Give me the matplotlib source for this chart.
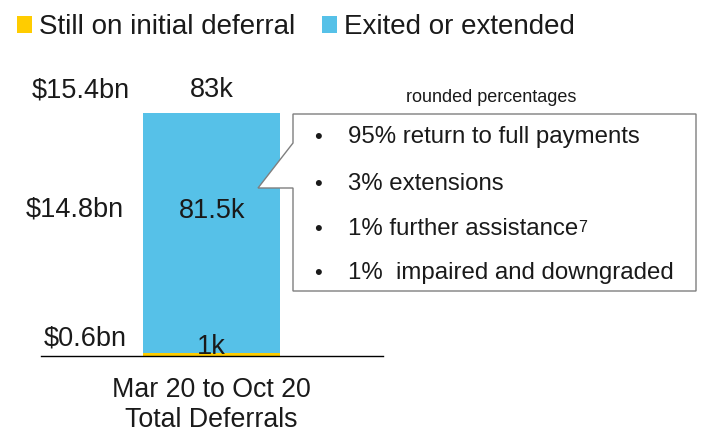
import matplotlib
matplotlib.use("Agg")
import matplotlib.pyplot as plt
from matplotlib.patches import Polygon

plt.rcParams['font.family'] = ['Liberation Sans', 'DejaVu Sans']

categories = ["Mar 20 to Oct 20\nTotal Deferrals"]
series_names = ["Still on initial deferral", "Exited or extended"]
still_on = [1.0]        # thousand accounts
exited = [81.5]         # thousand accounts
count_labels = ["1k", "81.5k", "83k"]
value_labels = ["$0.6bn", "$14.8bn", "$15.4bn"]
bullets = ["95% return to full payments", "3% extensions",
           "1% further assistance", "1%  impaired and downgraded"]
footnote = "7"
note = "rounded percentages"

yellow = "#FFCC00"
blue = "#56C1E8"
txt = "#1a1a1a"

W, H = 702, 436
fig = plt.figure(figsize=(W / 100, H / 100), dpi=100)

# main axes: pixel x 41..383, y 113..356
ax = fig.add_axes([41 / W, (H - 356) / H, 342 / W, 243 / H])
x = [0]
b1 = ax.bar(x, still_on, width=1.0, color=yellow, label=series_names[0])
b2 = ax.bar(x, exited, width=1.0, bottom=still_on, color=blue, label=series_names[1])
total = still_on[0] + exited[0]
ax.set_xlim(-1.245, 1.25)
ax.set_ylim(0, total)
for s in ["top", "right", "left"]:
    ax.spines[s].set_visible(False)
ax.spines["bottom"].set_color("black")
ax.spines["bottom"].set_linewidth(1.0)
ax.set_yticks([])
ax.set_xticks(x)
ax.set_xticklabels(categories, fontsize=19.3, color=txt, linespacing=1.22)
ax.tick_params(axis="x", length=0, pad=15)

fs = 19.5
kw = dict(textcoords="offset pixels", fontsize=fs, color=txt, va="center")
# counts
ax.annotate(count_labels[0], (0, 0), xytext=(0, 9), ha="center", **kw)
ax.annotate(count_labels[1], (0, total * 0.5), xytext=(0, 24), ha="center", **kw)
ax.annotate(count_labels[2], (0, total), xytext=(0, 23), ha="center", **kw)
# values on the left
ax.annotate(value_labels[0], (-0.5, 0), xytext=(-16, 18), ha="right", **kw)
ax.annotate(value_labels[1], (-0.5, total * 0.5), xytext=(-19, 25), ha="right", **kw)
ax.annotate(value_labels[2], (-0.5, total), xytext=(-13, 23), ha="right", **kw)

# overlay for callout (pixel coordinates)
ov = fig.add_axes([0, 0, 1, 1], facecolor="none")
ov.set_xlim(0, W)
ov.set_ylim(H, 0)
ov.axis("off")
poly = [(293, 114), (696, 114), (696, 291), (293, 291), (293, 188), (258, 188), (293, 143)]
ov.add_patch(Polygon(poly, closed=True, facecolor="white", edgecolor="#7f7f7f", lw=1.0))
ov.text(491, 97, note, ha="center", va="center", fontsize=13, color=txt)
ys = [137, 184, 229, 273]
for i, (y, t) in enumerate(zip(ys, bullets)):
    ov.text(318, y, "•", ha="center", va="center", fontsize=16, color=txt)
    tt = ov.text(348, y, t, ha="left", va="center", fontsize=17.3, color=txt)
    if i == 2:
        ov.annotate(footnote, xy=(1, 1), xycoords=tt,
                    xytext=(0, -2), textcoords="offset pixels",
                    ha="left", va="top", fontsize=11.5, color=txt)

# legend
fig.legend(handles=[b1, b2], labels=series_names, loc="upper left",
           bbox_to_anchor=(17 / W, 1 - 14 / H), ncol=2, frameon=False,
           fontsize=20, handlelength=0.55, handleheight=0.55, handletextpad=0.25,
           columnspacing=0.95, labelcolor=txt, borderaxespad=0.0, borderpad=0.0)

fig.savefig("out.png", dpi=100)
